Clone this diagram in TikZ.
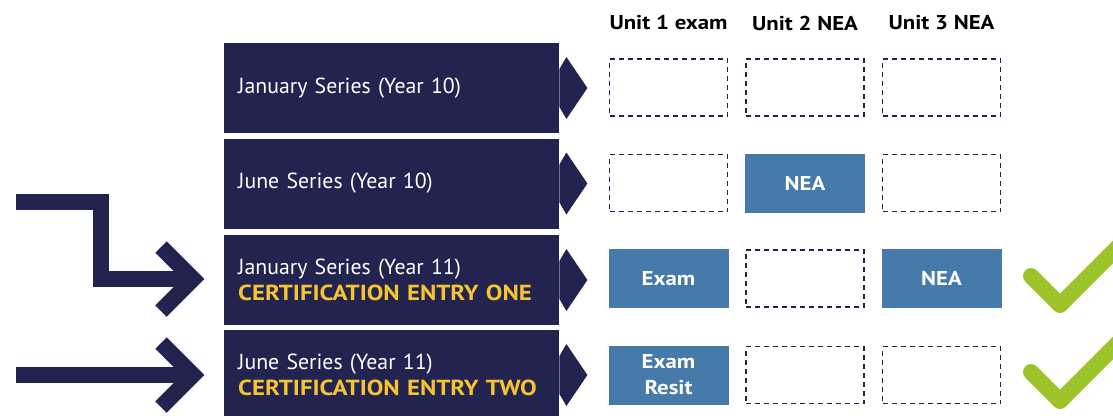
\documentclass[tikz,border=0pt]{standalone}
\usepackage{fontspec}
\setmainfont{PT Sans}[BoldFeatures={FakeStretch=1.14}]
\definecolor{BannerColor}{RGB}{34,35,79}
\definecolor{BoxColor}{RGB}{69,122,171}
\definecolor{EntryColor}{RGB}{246,196,46}
\definecolor{TickColor}{RGB}{156,195,42}
\usetikzlibrary{positioning}
\tikzstyle{series} = [rectangle, fill=BannerColor, text=white, anchor=west, minimum width=335, minimum height=90, inner xsep=14pt, text width=307pt, align=left, font=\fontsize{21.8}{26}\selectfont]
\tikzstyle{header} = [font=\bfseries\fontsize{20}{24}\selectfont]
\tikzstyle{emptybox} = [draw=BannerColor, line width=1.2pt, dash pattern=on 5pt off 4pt, minimum width=118, minimum height=57]
\tikzstyle{donebox} = [fill=BoxColor, text=white, align=center, minimum width=120, minimum height=59, font=\bfseries\fontsize{20}{26}\selectfont]
\tikzstyle{bigarrow} = [line width=16pt, BannerColor]
\tikzstyle{tick} = [line width=16pt, TickColor, line cap=round, line join=round]
\begin{document}
\begin{tikzpicture}[x=1pt, y=-1pt]
            \useasboundingbox (0,0) rectangle (1113,415);
            % Unit headers
            \node[header] (unit1) at (668.5,23) {Unit 1 exam};
            \node[header] (unit2) at (805,23) {Unit 2 NEA};
            \node[header] (unit3) at (941.5,23) {Unit 3 NEA};

            % Exam series banners
            \node[series] (jan10) at (224,88) {January Series (Year 10)};
            \fill[BannerColor] (jan10.east) ++(0,-19) -- ++(7,-12) -- ++(21,31) -- ++(-21,31) -- ++(-7,-12) -- cycle;
            \node[series] (jun10) at (224,183.5) {June Series (Year 10)};
            \fill[BannerColor] (jun10.east) ++(0,-19) -- ++(7,-12) -- ++(21,31) -- ++(-21,31) -- ++(-7,-12) -- cycle;
            \node[series] (jan11) at (224,280) {January Series (Year 11)\\\textcolor{EntryColor}{\bfseries CERTIFICATION ENTRY ONE}};
            \fill[BannerColor] (jan11.east) ++(0,-19) -- ++(7,-12) -- ++(21,31) -- ++(-21,31) -- ++(-7,-12) -- cycle;
            \node[series] (jun11) at (224,375) {June Series (Year 11)\\\textcolor{EntryColor}{\bfseries CERTIFICATION ENTRY TWO}};
            \fill[BannerColor] (jun11.east) ++(0,-19) -- ++(7,-12) -- ++(21,31) -- ++(-21,31) -- ++(-7,-12) -- cycle;

            % Unit boxes
            \node[emptybox] (jan10u1) at (668.5,87.5) {};
            \node[emptybox] (jan10u2) at (805,87.5) {};
            \node[emptybox] (jan10u3) at (941.5,87.5) {};
            \node[emptybox] (jun10u1) at (668.5,183) {};
            \node[donebox] (jun10u2) at (805,183) {NEA};
            \node[emptybox] (jun10u3) at (941.5,183) {};
            \node[donebox] (jan11u1) at (668.5,278.5) {Exam};
            \node[emptybox] (jan11u2) at (805,278.5) {};
            \node[donebox] (jan11u3) at (941.5,278.5) {NEA};
            \node[donebox] (jun11u1) at (668.5,375) {Exam\\Resit};
            \node[emptybox] (jun11u2) at (805,375) {};
            \node[emptybox] (jun11u3) at (941.5,375) {};

            % Entry arrows
            \coordinate (entry1) at (193,279);
            \coordinate (entry2) at (193,375);
            \draw[bigarrow] (16,202) -| (101,279) -- (entry1);
            \draw[bigarrow] (entry1) ++(-32,-32) -- ++(32,32) -- ++(-32,32);
            \draw[bigarrow] (16,375) -- (entry2);
            \draw[bigarrow] (entry2) ++(-32,-32) -- ++(32,32) -- ++(-32,32);

            % Certification ticks
            \draw[tick] (1031,276) -- (1060,305) -- (1125,240);
            \draw[tick] (1031,372) -- (1060,401) -- (1125,336);
        \end{tikzpicture}
\end{document}
